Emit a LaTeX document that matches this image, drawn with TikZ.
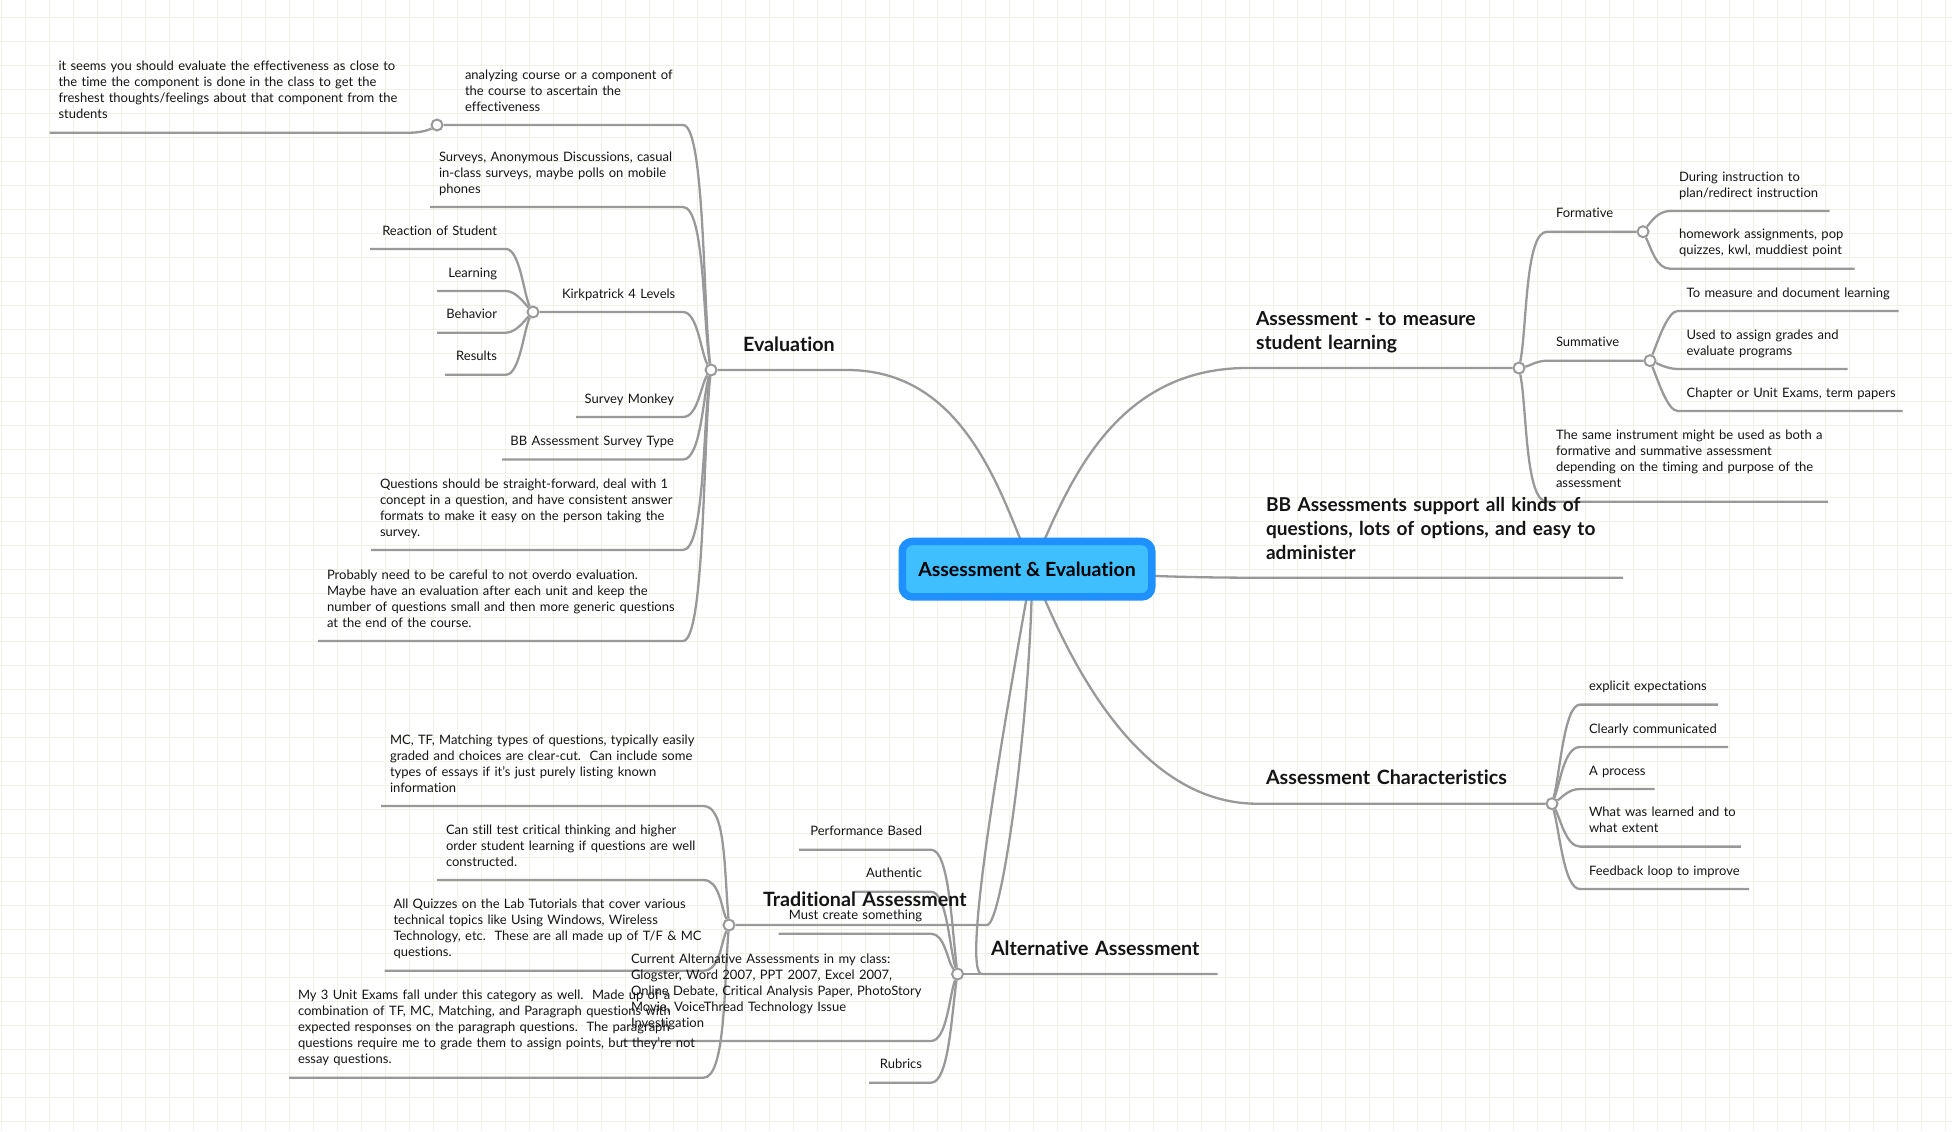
\documentclass[tikz,border=0pt]{standalone}
\usepackage{fontspec}
\setmainfont{Lato}[Ligatures=NoCommon]
\usetikzlibrary{backgrounds}
\definecolor{gridgreen}{HTML}{EFF2E6}
\definecolor{limbgray}{HTML}{999999}
\definecolor{rimblue}{HTML}{1E90FF}
\definecolor{fillblue}{HTML}{40BFFF}

\begin{document}
\begin{tikzpicture}[x=0.5pt, y=-0.5pt,
   gridline/.style ={draw=gridgreen, line width=0.5pt},
   limb/.style ={draw=limbgray, line width=1.15pt},
   leaf/.style ={font=\fontsize{6.5}{8}\selectfont, text=black!92, inner xsep=4.5pt, inner ysep=5pt, outer sep=0pt, align=left, execute at begin node={\rightskip=-15pt plus 1fil}, execute at end node={\rule[-2pt]{0pt}{0pt}}},
   leafright/.style ={leaf, align=right, execute at begin node={\rightskip=0pt\leftskip=-15pt plus 1fil}},
   topic/.style ={leaf, font=\fontsize{9.85}{12}\selectfont\bfseries, inner ysep=7.5pt},
   junction/.style ={circle, draw=limbgray, fill=white, line width=1pt, inner sep=0pt, minimum size=5.5pt},
   rootbox/.style ={rectangle, rounded corners=5pt, draw=rimblue, fill=fillblue, line width=3.75pt, minimum width=124.75pt, minimum height=27.75pt, font=\fontsize{9.75}{11}\selectfont\bfseries}]
   \useasboundingbox (0,0) rectangle (1952,1131);
   \coordinate (hub) at (1032,568);

   \node[rootbox] (root) at (1027,569.2) {Assessment \& Evaluation};

   % evaluation side
   \node[junction] (evj) at (711,370) {};
   \node[junction] (evj1) at (437,125) {};
   \node[junction] (kirkj) at (533,312) {};
   \node[topic, anchor=south west, text width=47.5pt] (eval) at (734,370) {Evaluation};
   \node[leaf, anchor=south west, text width=104.5pt] (ev1) at (456,125) {analyzing course or a component of\\the course to ascertain the\\effectiveness};
   \node[leaf, anchor=south west, text width=171.25pt] (ev11) at (49.5,132.7) {it seems you should evaluate the effectiveness as close to\\the time the component is done in the class to get the\\freshest thoughts/feelings about that component from the\\students};
   \node[leaf, anchor=south west, text width=117.5pt] (ev2) at (430,207) {Surveys, Anonymous Discussions, casual\\in-class surveys, maybe polls on mobile\\phones};
   \node[leaf, anchor=south west, text width=56pt] (kirk) at (553,312) {Kirkpatrick 4 Levels};
   \node[leafright, anchor=south east, text width=59pt] (kirk1) at (506,249) {Reaction of Student};
   \node[leafright, anchor=south east, text width=25.5pt] (kirk2) at (506,291) {Learning};
   \node[leafright, anchor=south east, text width=25.5pt] (kirk3) at (506,332.7) {Behavior};
   \node[leafright, anchor=south east, text width=21.5pt] (kirk4) at (506,374.7) {Results};
   \node[leafright, anchor=south east, text width=44.5pt] (ev4) at (683,417) {Survey Monkey};
   \node[leafright, anchor=south east, text width=81.5pt] (ev5) at (683,459.5) {BB Assessment Survey Type};
   \node[leaf, anchor=south east, text width=147pt] (ev6) at (683,550) {Questions should be straight-forward, deal with 1\\concept in a question, and have consistent answer\\formats to make it easy on the person taking the\\survey.};
   \node[leaf, anchor=south east, text width=173.5pt] (ev7) at (683,641) {Probably need to be careful to not overdo evaluation.\\Maybe have an evaluation after each unit and keep the\\number of questions small and then more generic questions\\at the end of the course.};

   % traditional side
   \node[junction] (trj) at (729,925) {};
   \node[topic, anchor=south west, text width=107.5pt] (trad) at (754,925) {Traditional Assessment};
   \node[leaf, anchor=south east, text width=152.25pt] (tr1) at (703.5,806) {MC, TF, Matching types of questions, typically easily\\graded and choices are clear-cut.\ \ Can include some\\types of essays if it's just purely listing known\\information};
   \node[leaf, anchor=south east, text width=124.25pt] (tr2) at (703.5,880) {Can still test critical thinking and higher\\order student learning if questions are well\\constructed.};
   \node[leaf, anchor=south east, text width=150.5pt] (tr3) at (703.5,970.7) {All Quizzes on the Lab Tutorials that cover various\\technical topics like Using Windows, Wireless\\Technology, etc.\ \ These are all made up of T/F \& MC\\questions.};
   \node[leaf, anchor=south east, text width=198.25pt] (tr4) at (703.5,1077.7) {My 3 Unit Exams fall under this category as well.\ \ Made up of a\\combination of TF, MC, Matching, and Paragraph questions with\\expected responses on the paragraph questions.\ \ The paragraph\\questions require me to grade them to assign points, but they're not\\essay questions.};

   % alternative side
   \node[junction] (altj) at (957.5,974) {};
   \node[topic, anchor=south west, text width=108.8pt] (alt) at (982,974) {Alternative Assessment};
   \node[leafright, anchor=south east, text width=57pt] (alt1) at (931,849.7) {Performance Based};
   \node[leafright, anchor=south east, text width=29.5pt] (alt2) at (931,891.7) {Authentic};
   \node[leafright, anchor=south east, text width=67.15pt] (alt3) at (931,933.7) {Must create something};
   \node[leaf, anchor=south east, text width=145.5pt] (alt4) at (931,1041) {Current Alternative Assessments in my class:\\Glogster, Word 2007, PPT 2007, Excel 2007,\\Online Debate, Critical Analysis Paper, PhotoStory\\Movie, VoiceThread Technology Issue\\Investigation};
   \node[leafright, anchor=south east, text width=22pt] (alt5) at (931,1082.7) {Rubrics};

   % assessment side
   \node[junction] (asj) at (1519,368) {};
   \node[junction] (forj) at (1643,231.7) {};
   \node[junction] (sumj) at (1650,360.7) {};
   \node[topic, font=\fontsize{9.65}{12}\selectfont\bfseries, anchor=south west, text width=127pt] (meas) at (1247,368) {Assessment - to measure\\student learning};
   \node[leaf, anchor=south west, text width=39pt] (form) at (1547,231.7) {Formative};
   \node[leaf, anchor=south west, text width=42.5pt] (summ) at (1547,360.7) {Summative};
   \node[leaf, anchor=south west, text width=131.5pt] (same) at (1547,501.7) {The same instrument might be used as both a\\formative and summative assessment\\depending on the timing and purpose of the\\assessment};
   \node[leaf, anchor=south west, text width=70.85pt] (form1) at (1670,211) {During instruction to\\plan/redirect instruction};
   \node[leaf, anchor=south west, text width=83.35pt] (form2) at (1670,268.7) {homework assignments, pop\\quizzes, kwl, muddiest point};
   \node[leaf, anchor=south west, text width=101.5pt] (summ1) at (1677.7,311) {To measure and document learning};
   \node[leaf, anchor=south west, text width=76pt] (summ2) at (1677.7,369) {Used to assign grades and\\evaluate programs};
   \node[leaf, anchor=south west, text width=103.5pt] (summ3) at (1677.7,411) {Chapter or Unit Exams, term papers};

   % options and characteristics
   \node[topic, font=\fontsize{9.55}{12}\selectfont\bfseries, inner ysep=6.9pt, anchor=south west, text width=174pt] (bbopt) at (1257,577.7) {BB Assessments support all kinds of\\questions, lots of options, and easy to\\administer};
   \node[junction] (charj) at (1552,803.7) {};
   \node[topic, anchor=south west, text width=138.5pt] (char) at (1257,803.7) {Assessment Characteristics};
   \node[leaf, anchor=south west, text width=60pt] (char1) at (1580,704.6) {explicit expectations};
   \node[leaf, anchor=south west, text width=65pt] (char2) at (1580,747) {Clearly communicated};
   \node[leaf, anchor=south west, text width=28.3pt] (char3) at (1580,789) {A process};
   \node[leaf, anchor=south west, text width=71.5pt] (char4) at (1580,846.6) {What was learned and to\\what extent};
   \node[leaf, anchor=south west, text width=75.5pt] (char5) at (1580,889) {Feedback loop to improve};

   \begin{pgfonlayer}{background}
   \foreach \gx in {1.3,25.3,...,1952} \draw[gridline] (\gx,0) -- (\gx,1131);
   \foreach \gy in {17.7,41.7,...,1131} \draw[gridline] (0,\gy) -- (1952,\gy);

   \draw[limb] (hub) .. controls +(-30,-70) and +(120,0) .. (eval.south east) -- (evj);
   \draw[limb] (hub) .. controls +(32,-70) and +(-140,0) .. (meas.south west) -- (asj);
   \draw[limb] (hub) .. controls +(80,8) and +(-60,0) .. (bbopt.south west) -- (bbopt.south east);
   \draw[limb] (hub) .. controls +(35,90) and +(-120,0) .. (char.south west) -- (charj);
   \draw[limb] (hub) .. controls +(-42,232) and +(-18,0) .. (alt.south west) -- (alt.south east);
   \draw[limb] (altj) -- (alt.south west);
   \draw[limb] (hub) .. controls +(0,132) and +(16,0) .. (trad.south east) -- (trj);

   \draw[limb] (evj) .. controls +(-8,-60) and +(22,0) .. (ev1.south east) -- (evj1);
   \draw[limb] (evj1) .. controls +(-8,5) and +(10,0) .. (ev11.south east) -- (ev11.south west);
   \draw[limb] (evj) .. controls +(-8,-45) and +(22,0) .. (ev2.south east) -- (ev2.south west);
   \draw[limb] (evj) .. controls +(-10,-16) and +(15,0) .. (kirk.south east) -- (kirkj);
   \draw[limb] (kirkj) .. controls +(-9,-16) and +(14,0) .. (kirk1.south east) -- (kirk1.south west);
   \draw[limb] (kirkj) .. controls +(-8,-8) and +(10,0) .. (kirk2.south east) -- (kirk2.south west);
   \draw[limb] (kirkj) .. controls +(-8,8) and +(10,0) .. (kirk3.south east) -- (kirk3.south west);
   \draw[limb] (kirkj) .. controls +(-9,16) and +(14,0) .. (kirk4.south east) -- (kirk4.south west);
   \draw[limb] (evj) .. controls +(-10,14) and +(15,0) .. (ev4.south east) -- (ev4.south west);
   \draw[limb] (evj) .. controls +(-8,25) and +(18,0) .. (ev5.south east) -- (ev5.south west);
   \draw[limb] (evj) .. controls +(-8,50) and +(22,0) .. (ev6.south east) -- (ev6.south west);
   \draw[limb] (evj) .. controls +(-8,70) and +(22,0) .. (ev7.south east) -- (ev7.south west);

   \draw[limb] (trj) .. controls +(-5,-60) and +(22,0) .. (tr1.south east) -- (tr1.south west);
   \draw[limb] (trj) .. controls +(-8,-18) and +(16,0) .. (tr2.south east) -- (tr2.south west);
   \draw[limb] (trj) .. controls +(-8,18) and +(16,0) .. (tr3.south east) -- (tr3.south west);
   \draw[limb] (trj) .. controls +(-5,60) and +(22,0) .. (tr4.south east) -- (tr4.south west);

   \draw[limb] (altj) .. controls +(-6,-50) and +(18,0) .. (alt1.south east) -- (alt1.south west);
   \draw[limb] (altj) .. controls +(-8,-25) and +(16,0) .. (alt2.south east) -- (alt2.south west);
   \draw[limb] (altj) .. controls +(-10,-12) and +(14,0) .. (alt3.south east) -- (alt3.south west);
   \draw[limb] (altj) .. controls +(-8,20) and +(16,0) .. (alt4.south east) -- (alt4.south west);
   \draw[limb] (altj) .. controls +(-6,40) and +(18,0) .. (alt5.south east) -- (alt5.south west);

   \draw[limb] (asj) .. controls +(8,-40) and +(-22,0) .. (form.south west) -- (forj);
   \draw[limb] (asj) .. controls +(10,-2) and +(-10,0) .. (summ.south west) -- (sumj);
   \draw[limb] (asj) .. controls +(8,40) and +(-22,0) .. (same.south west) -- (same.south east);
   \draw[limb] (forj) .. controls +(8,-10) and +(-12,0) .. (form1.south west) -- (form1.south east);
   \draw[limb] (forj) .. controls +(8,16) and +(-14,0) .. (form2.south west) -- (form2.south east);
   \draw[limb] (sumj) .. controls +(8,-20) and +(-10,0) .. (summ1.south west) -- (summ1.south east);
   \draw[limb] (sumj) .. controls +(8,3) and +(-10,0) .. (summ2.south west) -- (summ2.south east);
   \draw[limb] (sumj) .. controls +(8,20) and +(-10,0) .. (summ3.south west) -- (summ3.south east);

   \draw[limb] (charj) .. controls +(8,-30) and +(-16,0) .. (char1.south west) -- (char1.south east);
   \draw[limb] (charj) .. controls +(8,-20) and +(-16,0) .. (char2.south west) -- (char2.south east);
   \draw[limb] (charj) .. controls +(10,-6) and +(-12,0) .. (char3.south west) -- (char3.south east);
   \draw[limb] (charj) .. controls +(8,14) and +(-14,0) .. (char4.south west) -- (char4.south east);
   \draw[limb] (charj) .. controls +(8,30) and +(-16,0) .. (char5.south west) -- (char5.south east);
   \end{pgfonlayer}
\end{tikzpicture}
\end{document}
